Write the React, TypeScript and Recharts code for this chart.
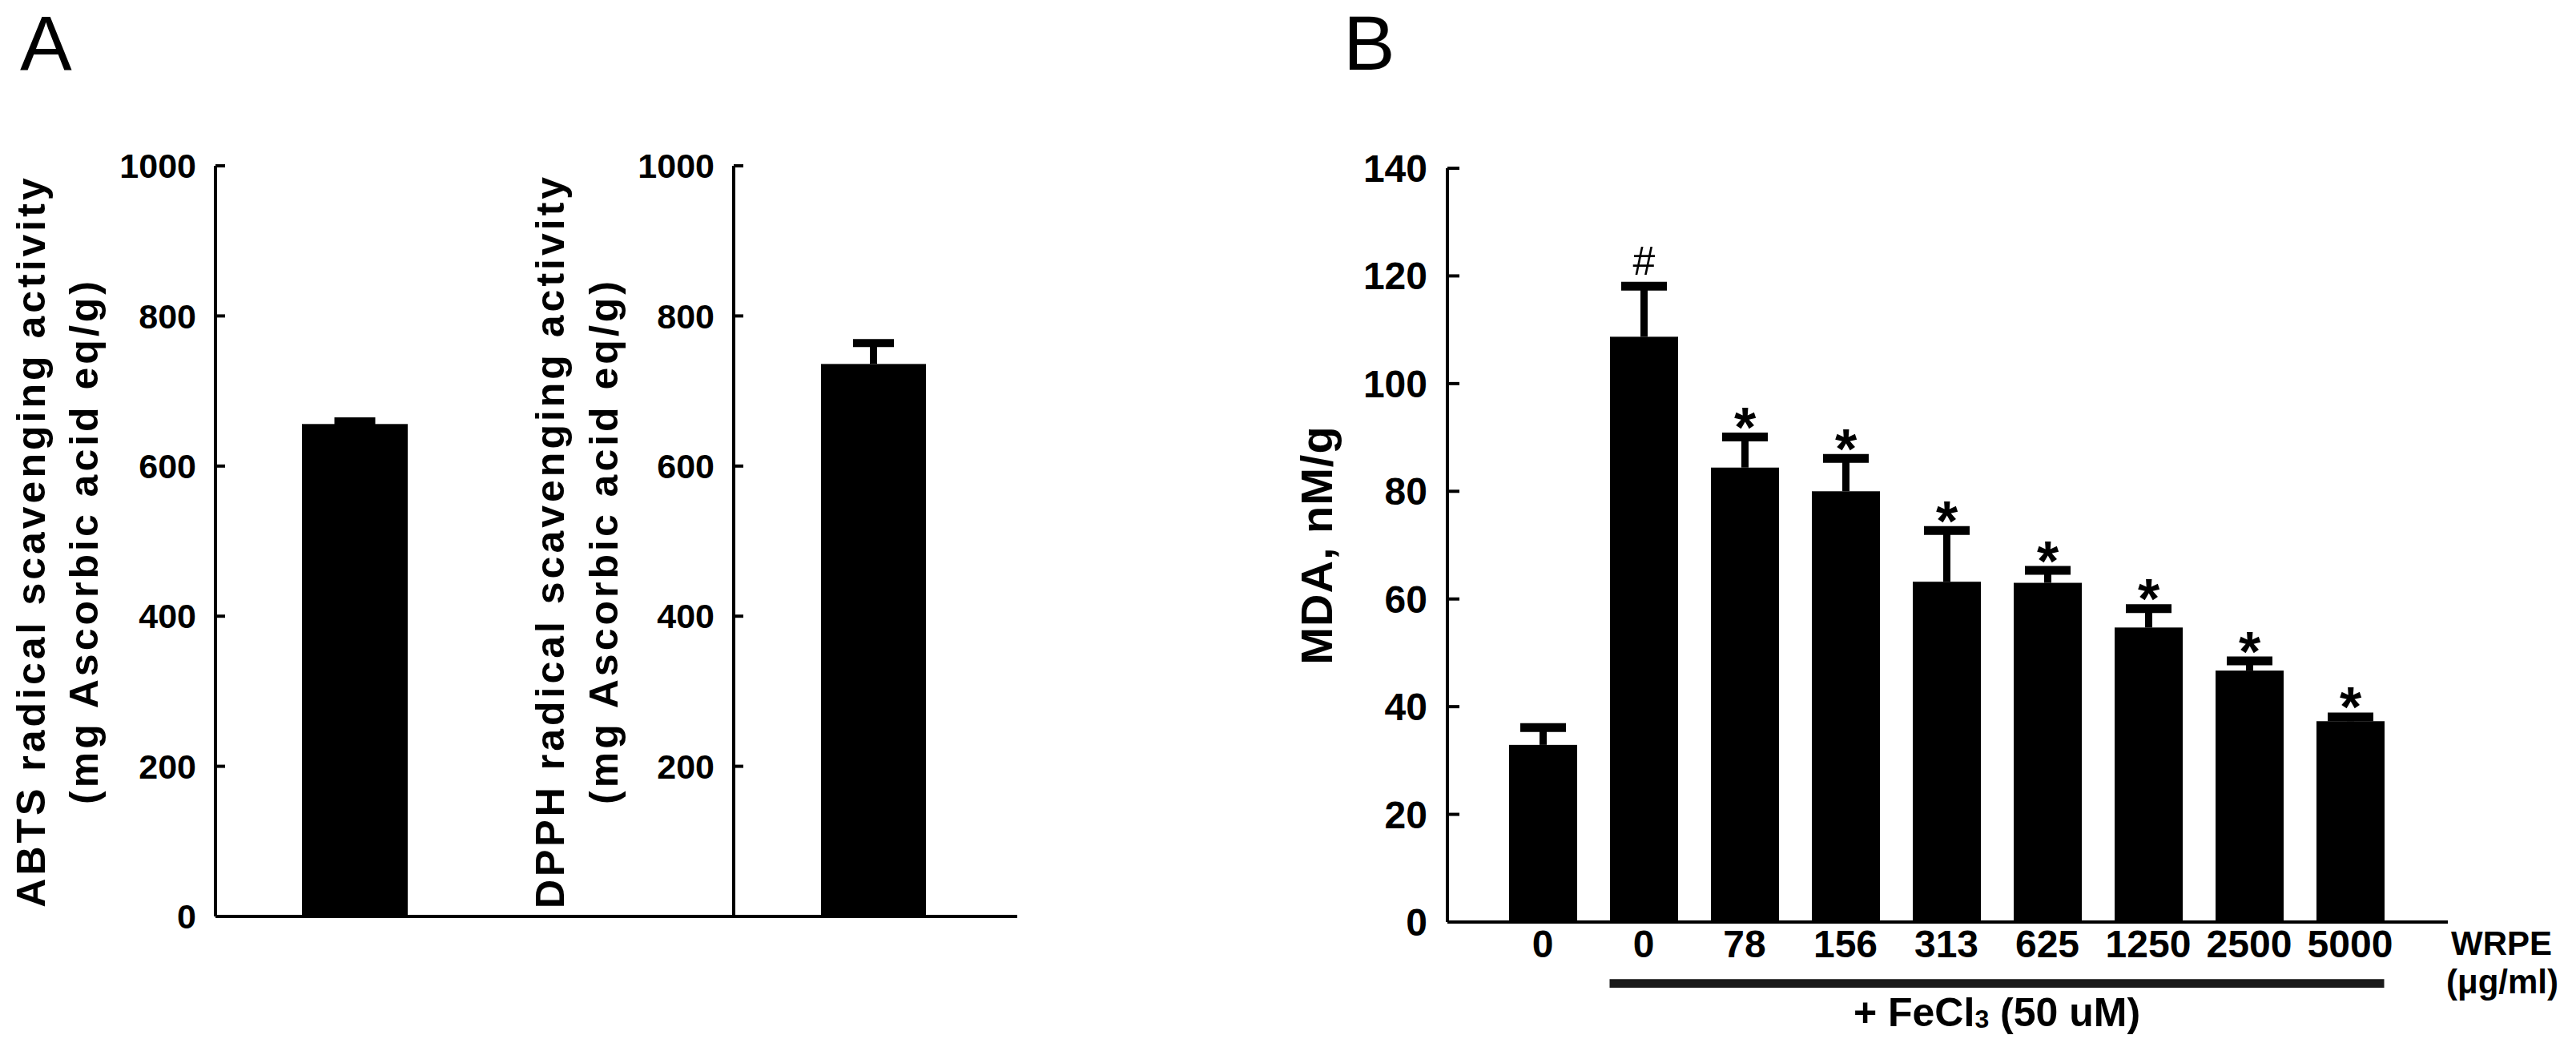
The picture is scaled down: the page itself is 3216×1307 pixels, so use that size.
import React from 'react';
import { BarChart, Bar, XAxis, YAxis, ReferenceArea } from 'recharts';

const FONT = '"Liberation Sans", Arial, Helvetica, sans-serif';

// ---------- Panel A data ----------
const abtsCategories = ['ABTS'];
const abtsMeans = [656];
const abtsErrors = [3.5];
const dpphCategories = ['DPPH'];
const dpphMeans = [736];
const dpphErrors = [28];
const abtsTicks = [0, 200, 400, 600, 800, 1000];
const dpphTicks = [200, 400, 600, 800, 1000];

// ---------- Panel B data ----------
const bCategories = ['ctrl-0', 'fe-0', 'fe-78', 'fe-156', 'fe-313', 'fe-625', 'fe-1250', 'fe-2500', 'fe-5000'];
const bTickLabels = ['0', '0', '78', '156', '313', '625', '1250', '2500', '5000'];
const bMeans = [32.9, 108.7, 84.4, 80.0, 63.2, 63.0, 54.7, 46.7, 37.3];
const bErrors = [3.2, 9.4, 5.7, 6.1, 9.5, 2.3, 3.5, 1.8, 0.8];
const bMarks = ['', '#', '*', '*', '*', '*', '*', '*', '*'];
const bTicks = [0, 20, 40, 60, 80, 100, 120, 140];
const feGroup = ['fe-0', 'fe-5000'];

const abtsData = abtsCategories.map((name, i) => ({ name, mean: abtsMeans[i], err: abtsErrors[i], mark: '' }));
const dpphData = dpphCategories.map((name, i) => ({ name, mean: dpphMeans[i], err: dpphErrors[i], mark: '' }));
const bData = bCategories.map((name, i) => ({ name, mean: bMeans[i], err: bErrors[i], mark: bMarks[i] }));

const makeBarShape = (capWidth: number, stemWidth: number, capThickness: number) => (props: any) => {
  const { x, y, width, height, payload } = props;
  const ppu = payload.mean ? height / payload.mean : 0;
  const cx = x + width / 2;
  const yErr = y - payload.err * ppu;
  const capTop = yErr - capThickness / 2;
  let mark = null;
  if (payload.mark === '#') {
    mark = (
      <text x={cx} y={capTop - 9} textAnchor="middle" fontFamily={FONT} fontSize={50} fill="#000">#</text>
    );
  } else if (payload.mark === '*') {
    mark = (
      <text x={cx} y={capTop + 18} textAnchor="middle" fontFamily={FONT} fontSize={70} fontWeight="bold" fill="#000">*</text>
    );
  }
  return (
    <g>
      <rect x={x} y={y} width={width} height={height} fill="#000" />
      <line x1={cx} x2={cx} y1={y} y2={yErr} stroke="#000" strokeWidth={stemWidth} />
      <line x1={cx - capWidth / 2} x2={cx + capWidth / 2} y1={yErr} y2={yErr} stroke="#000" strokeWidth={capThickness} />
      {mark}
    </g>
  );
};

const aShape = makeBarShape(51, 9, 10);
const bShape = makeBarShape(57, 9, 11);

const axisStyle = { stroke: '#000', strokeWidth: 4 };

const rotLabel = (x: number, y: number, text: string, size: number, spacing: number) => (
  <text
    x={x}
    y={y}
    transform={`rotate(-90 ${x} ${y})`}
    textAnchor="middle"
    fontFamily={FONT}
    fontWeight="bold"
    fontSize={size}
    letterSpacing={spacing}
    fill="#000"
  >
    {text}
  </text>
);

const BracketShape = (props: any) => {
  const { x, y, width, height } = props;
  const band = width / 8;
  const inset = (band - 85) / 2;
  const left = x + inset;
  const right = x + width - inset;
  return (
    <g>
      <rect x={left} y={y} width={right - left} height={height} fill="#1a1a1a" />
      <text x={(left + right) / 2} y={y + height + 48} textAnchor="middle" fontFamily={FONT} fontWeight="bold" fontSize={50} fill="#000">
        + FeCl<tspan fontSize={32} dy={2}>3</tspan>
        <tspan dy={-2}> (50 uM)</tspan>
      </text>
    </g>
  );
};

export default function App() {
  return (
    <div style={{ position: 'absolute', left: 0, top: 0, width: 3216, height: 1307, background: '#fff', overflow: 'hidden' }}>
      {/* Panel A - ABTS */}
      <div style={{ position: 'absolute', left: 0, top: 0 }}>
        <BarChart width={930} height={1307} data={abtsData} margin={{ top: 207, right: 14, bottom: 162, left: 69 }}>
          <XAxis dataKey="name" tick={false} tickLine={false} axisLine={axisStyle} height={1} padding={{ left: 0, right: 299 }} />
          <YAxis
            width={200}
            domain={[0, 1000]}
            ticks={abtsTicks}
            interval={0}
            tickSize={-12}
            tickMargin={36}
            tickLine={axisStyle}
            axisLine={axisStyle}
            tick={{ fontSize: 43, fontWeight: 'bold', fill: '#000', fontFamily: FONT }}
            label={{
              content: () => (
                <g>
                  <text x={25} y={87} fontFamily={FONT} fontSize={97} fill="#000">A</text>
                  {rotLabel(56, 675.5, 'ABTS radical scavenging activity', 50, 4)}
                  {rotLabel(122, 675.5, '(mg Ascorbic acid eq/g)', 50, 4)}
                </g>
              ),
            }}
          />
          <Bar dataKey="mean" barSize={132} isAnimationActive={false} shape={aShape} />
        </BarChart>
      </div>

      {/* Panel A - DPPH */}
      <div style={{ position: 'absolute', left: 620, top: 0 }}>
        <BarChart width={670} height={1307} data={dpphData} margin={{ top: 207, right: 20, bottom: 162, left: 96 }}>
          <XAxis dataKey="name" tick={false} tickLine={false} axisLine={axisStyle} height={1} padding={{ left: 0, right: 5 }} />
          <YAxis
            width={200}
            domain={[0, 1000]}
            ticks={dpphTicks}
            interval={0}
            tickSize={-12}
            tickMargin={36}
            tickLine={axisStyle}
            axisLine={axisStyle}
            tick={{ fontSize: 43, fontWeight: 'bold', fill: '#000', fontFamily: FONT }}
            label={{
              content: () => (
                <g>
                  {rotLabel(83.5, 675.5, 'DPPH radical scavenging activity', 50, 4)}
                  {rotLabel(151, 675.5, '(mg Ascorbic acid eq/g)', 50, 4)}
                </g>
              ),
            }}
          />
          <Bar dataKey="mean" barSize={131} isAnimationActive={false} shape={aShape} />
        </BarChart>
      </div>

      {/* Panel B */}
      <div style={{ position: 'absolute', left: 1500, top: 0 }}>
        <BarChart width={1716} height={1307} data={bData} margin={{ top: 210, right: 160, bottom: 96, left: 107 }}>
          <XAxis
            dataKey="name"
            height={60}
            tickSize={0}
            tickMargin={10}
            tickLine={false}
            axisLine={axisStyle}
            interval={0}
            padding={{ left: 56, right: 59 }}
            tickFormatter={(_v: any, i: number) => bTickLabels[i]}
            tick={{ fontSize: 48, fontWeight: 'bold', fill: '#000', fontFamily: FONT }}
            label={{
              content: () => (
                <g>
                  <text x={1623} y={1192} textAnchor="middle" fontFamily={FONT} fontWeight="bold" fontSize={42} fill="#000">WRPE</text>
                  <text x={1624} y={1240} textAnchor="middle" fontFamily={FONT} fontWeight="bold" fontSize={42} fill="#000">(μg/ml)</text>
                </g>
              ),
            }}
          />
          <YAxis
            width={200}
            domain={[0, 140]}
            ticks={bTicks}
            interval={0}
            tickSize={-15}
            tickMargin={40}
            tickLine={axisStyle}
            axisLine={axisStyle}
            tick={{ fontSize: 48, fontWeight: 'bold', fill: '#000', fontFamily: FONT }}
            label={{
              content: () => (
                <g>
                  <text x={177} y={87} fontFamily={FONT} fontSize={97} fill="#000">B</text>
                  {rotLabel(163, 680.5, 'MDA, nM/g', 56, 1)}
                </g>
              ),
            }}
          />
          <Bar dataKey="mean" barSize={85} isAnimationActive={false} shape={bShape} />
          <ReferenceArea x1={feGroup[0]} x2={feGroup[1]} y1={-10.6} y2={-12.2} ifOverflow="visible" shape={BracketShape} />
        </BarChart>
      </div>
    </div>
  );
}
